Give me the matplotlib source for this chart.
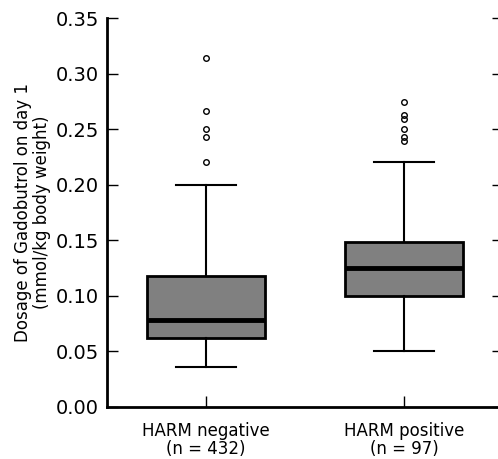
import matplotlib
matplotlib.use("Agg")
import matplotlib.pyplot as plt

groups = ["HARM negative\n(n = 432)", "HARM positive\n(n = 97)"]
whislo = [0.036, 0.050]
q1 = [0.062, 0.100]
med = [0.078, 0.125]
q3 = [0.118, 0.1485]
whishi = [0.200, 0.220]
fliers_neg = [0.220, 0.243, 0.250, 0.266, 0.314]
fliers_pos = [0.239, 0.243, 0.250, 0.259, 0.263, 0.274]
fliers = [fliers_neg, fliers_pos]

stats = []
for i in range(len(groups)):
    stats.append(dict(label=groups[i], whislo=whislo[i], q1=q1[i], med=med[i],
                      q3=q3[i], whishi=whishi[i], fliers=fliers[i]))

fig = plt.figure(figsize=(4.98, 4.59), dpi=100)
# right edge sits just past the image, as in the reference crop
ax = fig.add_axes([107 / 498, 52 / 459, 396 / 498, 389 / 459])

ax.bxp(stats, positions=[1, 2], widths=0.6, patch_artist=True,
       boxprops=dict(facecolor="#808080", edgecolor="black", linewidth=2),
       medianprops=dict(color="black", linewidth=3.5),
       whiskerprops=dict(color="black", linewidth=1.5),
       capprops=dict(color="black", linewidth=1.5),
       flierprops=dict(marker="o", markersize=4, markerfacecolor="none",
                       markeredgecolor="black", markeredgewidth=1))

ax.set_xlim(0.5, 2.5)
ax.set_ylim(0, 0.35)
ax.set_yticks([0.0, 0.05, 0.10, 0.15, 0.20, 0.25, 0.30, 0.35])
ax.set_yticklabels(["%.2f" % v for v in ax.get_yticks()], fontsize=14)
ax.set_xticklabels(groups, fontsize=12, linespacing=1.0)
ax.spines["top"].set_visible(False)
ax.spines["right"].set_visible(False)
ax.spines["left"].set_linewidth(2)
ax.spines["bottom"].set_linewidth(2)
ax.tick_params(axis="y", direction="in", length=8, width=1, left=True, right=True, pad=6)
ax.tick_params(axis="x", direction="in", length=8, width=1, top=False, pad=11)

ax.set_ylabel("Dosage of Gadobutrol on day 1\n(mmol/kg body weight)", fontsize=12,
              labelpad=3, linespacing=1.05)

fig.savefig("out.png", dpi=100)
